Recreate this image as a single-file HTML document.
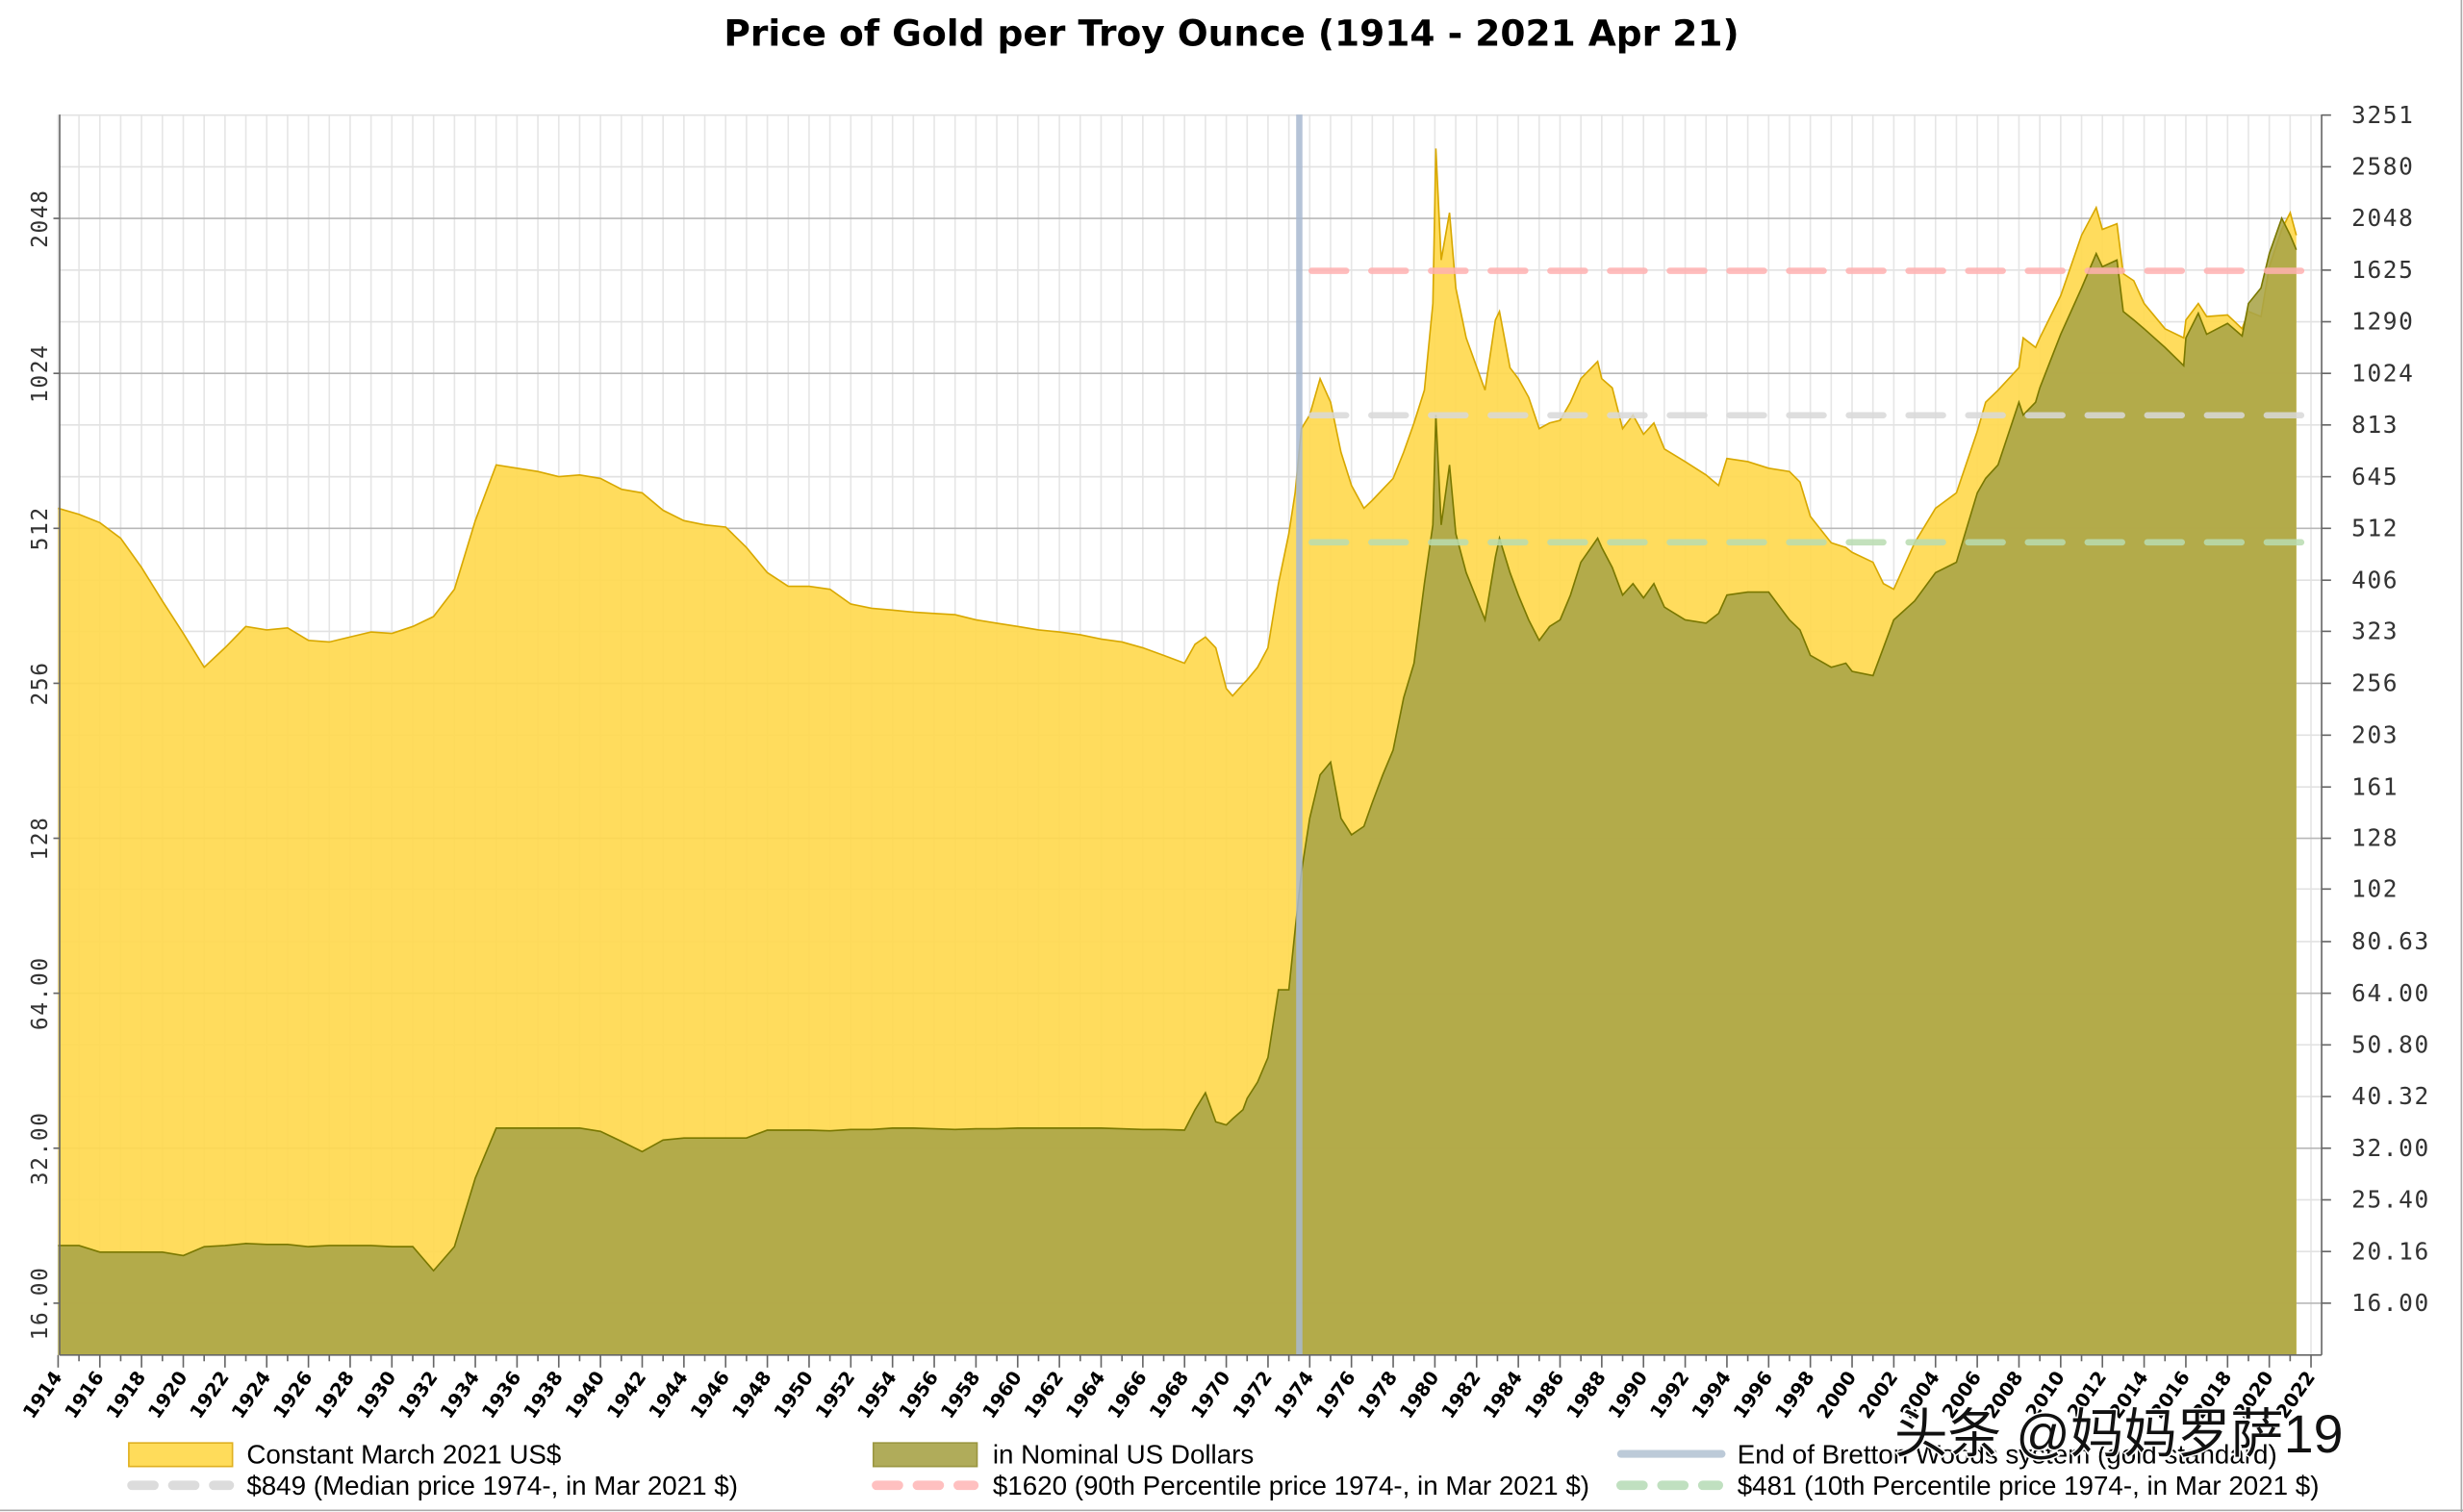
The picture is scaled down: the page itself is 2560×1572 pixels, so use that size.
<!DOCTYPE html>
<html><head><meta charset="utf-8"><style>
html,body{margin:0;padding:0;background:#fff}
svg{display:block}
text{font-family:"Liberation Sans",sans-serif}
.mono{font-family:"DejaVu Sans Mono","Liberation Mono",monospace}
</style></head><body>
<svg id="chart" width="2560" height="1572" viewBox="0 0 1568 963" preserveAspectRatio="none" xmlns="http://www.w3.org/2000/svg">
<rect x="0" y="0" width="1568" height="963" fill="#fff"/>
<line x1="1567" y1="0" x2="1567" y2="963" stroke="#aaa"/>
<line x1="0" y1="962" x2="1568" y2="962" stroke="#aaa"/>
<text x="784" y="29" text-anchor="middle" font-size="23" font-weight="bold" style="font-family:'DejaVu Sans',sans-serif">Price of Gold per Troy Ounce (1914 - 2021 Apr 21)</text>
<g id="grid"></g>
<g id="series"></g>
<g id="refs"></g>
<g id="axes"></g>
<g id="legend">
  <rect x="82" y="919" width="66" height="15" fill="#ffdc5a" stroke="#e0b020"/>
  <text x="157" y="932" font-size="17">Constant March 2021 US$</text>
  <rect x="556" y="919" width="66" height="15" fill="#b0ac5a" stroke="#9a9640"/>
  <text x="632" y="932" font-size="17">in Nominal US Dollars</text>
  <line x1="1032" y1="926" x2="1096" y2="926" stroke="#bccad8" stroke-width="5" stroke-linecap="round"/>
  <text x="1106" y="932" font-size="17">End of Bretton Woods system (gold standard)</text>
  <line x1="84" y1="946" x2="146" y2="946" stroke="#dcdcdc" stroke-width="6" stroke-dasharray="14 12" stroke-linecap="round"/>
  <text x="157" y="952" font-size="17">$849 (Median price 1974-, in Mar 2021 $)</text>
  <line x1="558" y1="946" x2="620" y2="946" stroke="#ffc0c0" stroke-width="6" stroke-dasharray="14 12" stroke-linecap="round"/>
  <text x="632" y="952" font-size="17">$1620 (90th Percentile price 1974-, in Mar 2021 $)</text>
  <line x1="1032" y1="946" x2="1094" y2="946" stroke="#c0e0c0" stroke-width="6" stroke-dasharray="14 12" stroke-linecap="round"/>
  <text x="1106" y="952" font-size="17">$481 (10th Percentile price 1974-, in Mar 2021 $)</text>
</g>
<text x="1206" y="925" font-size="34" fill="#111" stroke="#fff" stroke-width="2" paint-order="stroke" style="font-family:'Liberation Sans','Noto Sans CJK SC',sans-serif">头条 @妈妈罗萨19</text>
</svg>
<script>
const years = [1914,1915,1916,1917,1918,1919,1920,1921,1922,1923,1924,1925,1926,1927,1928,1929,1930,1931,1932,1933,1934,1935,1936,1937,1938,1939,1940,1941,1942,1943,1944,1945,1946,1947,1948,1949,1950,1951,1952,1953,1954,1955,1956,1957,1958,1959,1960,1961,1962,1963,1964,1965,1966,1967,1968,1968.5,1969,1969.5,1970,1970.3,1970.8,1971,1971.5,1972,1972.5,1973,1973.3,1973.6,1974,1974.5,1975,1975.5,1976,1976.6,1977,1977.5,1978,1978.5,1979,1979.5,1979.9,1980.05,1980.3,1980.7,1981,1981.5,1982.4,1982.9,1983.1,1983.6,1984,1984.5,1985,1985.5,1986,1986.5,1987,1987.8,1988,1988.5,1989,1989.5,1990,1990.5,1991,1992,1993,1993.6,1994,1995,1996,1997,1997.5,1998,1999,1999.7,2000,2001,2001.5,2002,2003,2004,2005,2006,2006.4,2007,2008,2008.2,2008.8,2009,2010,2011,2011.7,2012,2012.7,2013,2013.5,2014,2015,2015.9,2016,2016.6,2017,2018,2018.7,2019,2019.6,2020,2020.6,2021,2021.3];
const realValues = [560,545,525,490,430,370,320,275,300,330,325,328,310,308,315,322,320,330,345,390,530,680,670,660,645,650,640,610,600,555,530,520,515,470,420,395,395,390,365,358,355,352,350,348,340,335,330,325,322,318,312,308,300,290,280,305,315,300,250,242,255,260,275,300,400,500,600,800,850,1000,900,720,620,560,580,610,640,720,820,950,1400,2800,1700,2100,1500,1200,950,1300,1350,1050,1000,920,800,820,830,900,1000,1080,1000,960,800,850,780,820,730,690,650,620,700,690,670,660,630,540,480,470,460,440,400,390,480,560,600,790,900,950,1050,1200,1150,1200,1450,1900,2150,1950,2000,1600,1550,1400,1250,1200,1300,1400,1320,1330,1250,1350,1320,1650,1950,2100,1900,1830];
const nominalValues = [20.7,20.7,20.1,20.1,20.1,20.1,19.8,20.6,20.7,20.9,20.8,20.8,20.6,20.7,20.7,20.7,20.6,20.6,18.5,20.6,28,35,35,35,35,35,34.5,33,31.5,33.2,33.5,33.5,33.5,33.5,34.7,34.7,34.7,34.6,34.8,34.8,35,35,34.9,34.8,34.9,34.9,35,35,35,35,35,34.9,34.8,34.8,34.7,38,41,36,35.5,36.5,38,40,43,48,65,65,85,110,140,170,180,140,130,135,150,170,190,240,280,400,520,850,520,680,500,420,340,450,490,420,380,340,310,330,340,380,440,490,470,430,380,400,375,400,360,340,335,350,380,385,385,340,325,290,275,280,270,265,300,340,370,420,440,600,640,680,900,850,900,960,1220,1500,1750,1650,1700,1350,1300,1250,1150,1060,1200,1340,1220,1280,1210,1400,1500,1750,2050,1900,1780];
const leftTicks = [16,32,64,128,256,512,1024,2048];
const leftTickLabels = ["16.00","32.00","64.00","128","256","512","1024","2048"];
const rightTicks = [16,20.16,25.4,32,40.32,50.8,64,80.63,102,128,161,203,256,323,406,512,645,813,1024,1290,1625,2048,2580,3251];
const rightTickLabels = ["16.00","20.16","25.40","32.00","40.32","50.80","64.00","80.63","102","128","161","203","256","323","406","512","645","813","1024","1290","1625","2048","2580","3251"];
const refValues = [849,1620,481];
const refColors = ["#d8d8d8","#ffb0b0","#b8dcb0"];
const brettonYear = 1973.5;

const NS = "http://www.w3.org/2000/svg";
const L = 38, R = 1478, T = 73, B = 863;
function xs(y){ return 37 + (y - 1914) * 13.28; }
function ys(v){ return 830 - 98.7 * Math.log2(v / 16); }
function mk(tag, attrs, parent){ const e = document.createElementNS(NS, tag); for (const k in attrs) e.setAttribute(k, attrs[k]); parent.appendChild(e); return e; }

const grid = document.getElementById('grid');
for (let yr = 1914; yr <= 2023; yr++) {
  const x = xs(yr); if (x > R) break;
  const g = mk('line', {x1:x, y1:T, x2:x, y2:B, stroke:'#e6e6e6', 'stroke-width':1}, grid);
  
  
}
rightTicks.forEach(v => {
  const y = ys(v);
  const major = leftTicks.includes(v);
  const g = mk('line', {x1:L, y1:y, x2:R, y2:y, stroke: major ? '#b8b8b8' : '#e2e2e2', 'stroke-width':1}, grid);
  
  
});

const series = document.getElementById('series');
function areaPath(vals){
  let d = 'M' + xs(years[0]) + ',' + B;
  years.forEach((yr, i) => { d += ' L' + xs(yr).toFixed(1) + ',' + ys(vals[i]).toFixed(1); });
  d += ' L' + xs(years[years.length-1]) + ',' + B + ' Z';
  return d;
}
function linePath(vals){
  return years.map((yr, i) => (i ? 'L' : 'M') + xs(yr).toFixed(1) + ',' + ys(vals[i]).toFixed(1)).join(' ');
}
const ra = mk('path', {d: areaPath(realValues), fill:'#ffd94f', 'fill-opacity':0.92}, series);


const rl = mk('path', {d: linePath(realValues), fill:'none', stroke:'#d8a800', 'stroke-width':1}, series);


const na = mk('path', {d: areaPath(nominalValues), fill:'#a8a448', 'fill-opacity':0.88}, series);


const nl = mk('path', {d: linePath(nominalValues), fill:'none', stroke:'#7a7800', 'stroke-width':1}, series);



const refs = document.getElementById('refs');
const bw = mk('line', {x1:xs(brettonYear), y1:T, x2:xs(brettonYear), y2:B, stroke:'#a8b8d0', 'stroke-width':4, 'stroke-opacity':0.85}, refs);


refValues.forEach((v, i) => {
  const y = ys(v);
  const l = mk('line', {x1:835, y1:y, x2:1472, y2:y, stroke:refColors[i], 'stroke-width':4, 'stroke-dasharray':'22 16', 'stroke-linecap':'round', 'stroke-opacity':0.85}, refs);
  
  
});

const axes = document.getElementById('axes');
mk('line', {x1:L, y1:T, x2:L, y2:B, stroke:'#666'}, axes);
mk('line', {x1:R, y1:T, x2:R, y2:B, stroke:'#666'}, axes);
mk('line', {x1:L, y1:B, x2:R, y2:B, stroke:'#666'}, axes);
leftTicks.forEach((v, i) => {
  const y = ys(v);
  mk('line', {x1:L-4, y1:y, x2:L, y2:y, stroke:'#666'}, axes);
  const t = mk('text', {x:30, y:y, 'font-size':14, 'text-anchor':'middle', class:'mono', transform:'rotate(-90 30 ' + y + ')', fill:'#333', 'letter-spacing':1}, axes);
  t.textContent = leftTickLabels[i];
  
  
});
rightTicks.forEach((v, i) => {
  const y = ys(v);
  mk('line', {x1:R, y1:y, x2:R+6, y2:y, stroke:'#666'}, axes);
  const t = mk('text', {x:1497, y:y+5, 'font-size':15, class:'mono', fill:'#333', 'letter-spacing':1}, axes);
  t.textContent = rightTickLabels[i];
  
  
});
for (let yr = 1914; yr <= 2023; yr++) {
  const x = xs(yr); if (x > R) break;
  const major = (yr % 2 === 0);
  mk('line', {x1:x, y1:B, x2:x, y2:B + (major ? 8 : 4), stroke:'#666'}, axes);
  if (major) {
    const t = mk('text', {x:x+3, y:B+14, 'font-size':12, 'font-weight':'bold', 'text-anchor':'end', transform:'rotate(-55 ' + (x+3) + ' ' + (B+14) + ')', fill:'#000', style:"font-family:'DejaVu Sans',sans-serif"}, axes);
    t.textContent = String(yr);
    
    
  }
}
</script>
</body></html>
